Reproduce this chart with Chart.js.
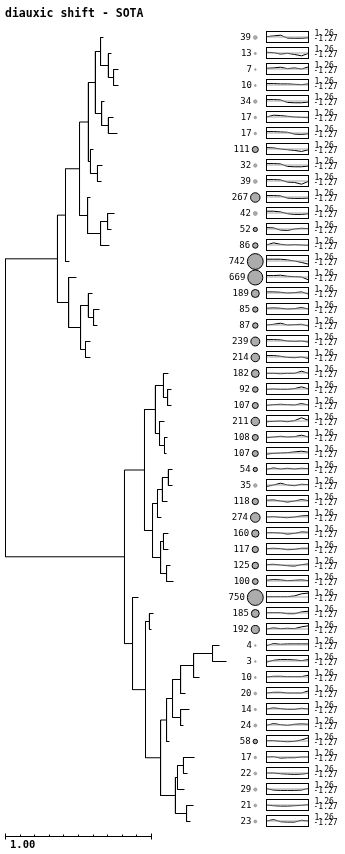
<!DOCTYPE html>
<html>
<head>
<meta charset="utf-8">
<script src="https://cdn.jsdelivr.net/npm/chart.js@4.4.1/dist/chart.umd.min.js"></script>
<style>
    html, body { margin: 0; padding: 0; background: #ffffff; }
</style>
</head>
<body>
<canvas id="sota-chart" width="345" height="854"></canvas>
<script>
const chart_title = 'diauxic shift - SOTA';

// number of genes in each leaf cluster, top to bottom
const leaf_counts = [39, 13, 7, 10, 34, 17, 17, 111, 32, 39, 267, 42, 52, 86, 742, 669, 189, 85, 87, 239,
    214, 182, 92, 107, 211, 108, 107, 54, 35, 118, 274, 160, 117, 125, 100, 750, 185, 192, 4, 3,
    10, 20, 14, 24, 58, 17, 22, 29, 21, 23];

// distance from the root where each leaf branch ends
const leaf_ends = [0.671, 0.726, 0.774, 0.774, 0.678, 0.740, 0.767, 0.603, 0.664, 0.658,
    0.582, 0.747, 0.726, 0.712, 0.438, 0.486, 0.596, 0.644, 0.630, 0.582,
    0.582, 1.116, 1.137, 1.137, 1.089, 1.110, 1.103, 1.144, 1.144, 1.110,
    1.068, 1.116, 1.116, 1.130, 1.151, 0.911, 1.014, 1.000, 1.466, 1.514,
    1.329, 1.233, 1.260, 1.219, 1.123, 1.295, 1.247, 1.226, 1.288, 1.267];

// [child a, child b, distance]; leaves are 0..49, new nodes get 50, 51, ...
const merges = [
    [2, 3, 0.740], [1, 50, 0.705], [0, 51, 0.651], [5, 6, 0.705], [4, 53, 0.658],
    [52, 54, 0.616], [8, 9, 0.630], [7, 56, 0.582], [55, 57, 0.568], [11, 12, 0.699],
    [59, 13, 0.651], [10, 60, 0.562], [58, 61, 0.507], [62, 14, 0.411], [17, 18, 0.603],
    [16, 64, 0.568], [19, 20, 0.548], [65, 66, 0.514], [15, 67, 0.432], [63, 68, 0.356],
    [22, 23, 1.110], [21, 70, 1.082], [25, 26, 1.089], [24, 72, 1.055], [71, 73, 1.027],
    [27, 28, 1.116], [75, 29, 1.075], [76, 30, 1.041], [31, 32, 1.082], [33, 34, 1.103],
    [78, 79, 1.062], [77, 80, 1.007], [74, 81, 0.952], [36, 37, 0.986], [38, 39, 1.418],
    [84, 40, 1.288], [85, 41, 1.199], [42, 43, 1.199], [86, 87, 1.144], [88, 44, 1.103],
    [45, 46, 1.219], [90, 47, 1.178], [48, 49, 1.240], [91, 92, 1.164], [89, 93, 1.062],
    [83, 94, 0.959], [35, 95, 0.870], [82, 96, 0.815], [69, 97, 0.000]
];

const profile_max = 1.26;
const profile_min = -1.27;

// mean expression profile of each cluster (7 time points)
const profiles = [
    [0.1, 0.3, 0.5, -0.3, -0.35, -0.35, -0.2],
    [0.2, 0.1, -0.3, -0.1, -0.4, -0.8, -0.1],
    [0.2, 0.3, 0.5, 0.1, 0.3, 0.0, 0.6],
    [0.4, 0.4, 0.3, 0.3, 0.2, 0.1, 0.3],
    [0.4, 0.4, 0.3, -0.4, -0.5, -0.5, -0.3],
    [0.0, 0.5, 0.4, 0.2, 0.0, -0.1, -0.2],
    [0.4, 0.4, 0.3, 0.2, -0.3, -0.4, -0.2],
    [0.4, 0.3, 0.0, -0.2, -0.4, -0.7, -0.2],
    [0.4, 0.4, 0.3, -0.4, -0.5, -0.5, -0.3],
    [0.4, 0.4, 0.3, -0.3, -0.4, -0.9, -0.1],
    [0.4, 0.4, 0.3, -0.3, -0.4, -0.4, -0.3],
    [0.5, 0.5, 0.3, -0.2, -0.4, -0.4, -0.2],
    [0.4, 0.3, -0.3, -0.4, 0.0, 0.2, 0.1],
    [0.0, 0.6, 0.2, 0.0, 0.1, 0.0, -0.1],
    [0.5, 0.5, 0.5, 0.3, 0.0, -0.4, -0.9],
    [0.4, 0.4, 0.5, 0.2, 0.1, 0.0, -0.8],
    [0.3, 0.3, 0.2, 0.0, 0.1, 0.3, -0.3],
    [0.2, 0.3, 0.2, 0.0, 0.1, 0.4, 0.0],
    [0.0, 0.2, 0.5, 0.0, 0.1, 0.2, -0.3],
    [0.4, 0.4, 0.3, 0.0, -0.1, 0.0, -0.3],
    [0.4, 0.4, 0.2, -0.1, -0.2, 0.0, -0.4],
    [-0.1, -0.1, -0.2, -0.1, -0.1, 0.5, -0.1],
    [-0.1, 0.0, -0.1, -0.1, 0.1, 0.6, 0.0],
    [-0.1, 0.1, 0.2, 0.1, 0.0, 0.4, 0.0],
    [-0.2, -0.1, 0.0, -0.2, 0.1, 0.9, 0.2],
    [-0.2, 0.0, 0.2, 0.0, 0.1, 0.5, 0.0],
    [-0.3, -0.1, 0.0, 0.1, 0.3, 0.5, 0.2],
    [-0.1, 0.3, 0.0, 0.2, 0.0, 0.2, 0.1],
    [-0.4, 0.0, 0.5, 0.0, -0.2, 0.2, 0.1],
    [0.2, 0.3, 0.0, -0.3, 0.0, 0.4, 0.1],
    [0.0, 0.1, -0.1, -0.2, 0.0, 0.3, 0.4],
    [0.1, 0.1, 0.0, -0.3, -0.1, 0.3, 0.2],
    [0.1, 0.2, 0.1, -0.2, -0.1, 0.2, 0.2],
    [0.1, 0.2, 0.0, -0.2, -0.3, 0.1, 0.3],
    [0.2, 0.4, 0.3, 0.1, 0.2, 0.3, 0.1],
    [0.1, 0.1, 0.1, 0.1, 0.3, 0.9, 1.1],
    [0.1, 0.1, 0.1, -0.2, -0.2, 0.3, 0.5],
    [0.0, 0.3, 0.1, 0.2, 0.1, 0.6, 0.9],
    [-0.2, 0.4, 0.2, 0.3, 0.3, 0.3, 0.3],
    [-0.3, 0.2, 0.4, 0.4, 0.3, 0.1, 0.4],
    [0.0, 0.2, 0.2, 0.1, 0.1, 0.1, 0.5],
    [0.0, 0.2, 0.2, 0.0, 0.0, 0.0, 0.6],
    [0.0, 0.3, 0.1, -0.1, -0.1, 0.2, 0.0],
    [-0.1, 0.4, 0.1, -0.1, 0.2, 0.3, 0.2],
    [0.1, 0.1, -0.1, -0.2, -0.1, 0.3, 0.9],
    [0.0, 0.1, -0.3, -0.2, -0.2, 0.0, 0.0],
    [0.0, 0.0, -0.2, -0.3, -0.4, -0.3, -0.1],
    [0.1, -0.3, -0.4, -0.4, -0.4, -0.3, 0.2],
    [0.0, -0.2, -0.3, -0.3, -0.2, -0.1, 0.1],
    [0.0, 0.4, -0.2, -0.3, -0.3, 0.2, 0.0]
];

const scale_bar_length = 1.0;
const scale_bar_step = 0.1;
const scale_bar_label = '1.00';

const sota_chart = document.getElementById('sota-chart');

// layout (pixels)
const tree_left = 5.5;
const tree_unit = 146;
const row_top = 37.5;
const row_step = 16;
const panel_left = 266.5;
const panel_step = 7;
const marker_pos = -1.6;
const box_top = -6 / row_step;
const box_bottom = 5 / row_step;
const box_mid = (box_top + box_bottom) / 2;
const box_half = (box_bottom - box_top) / 2 - 1 / row_step;

// dendrogram as elbow paths
const node_x = leaf_ends.slice();
const node_y = leaf_counts.map((count, i) => i);
merges.forEach(([a, b, h]) => {
    node_x.push(h);
    node_y.push((node_y[a] + node_y[b]) / 2);
});

const tree_points = [];
merges.forEach(([a, b, h]) => {
    tree_points.push(
        { x: node_x[a], y: node_y[a] },
        { x: h, y: node_y[a] },
        { x: h, y: node_y[b] },
        { x: node_x[b], y: node_y[b] },
        { x: null, y: null }
    );
});

const profile_to_row = (row, v) => {
    const half_range = v >= 0 ? profile_max : -profile_min;
    return row + box_mid - (v / half_range) * box_half;
};

const zero_points = [];
const profile_points = [];
profiles.forEach((values, row) => {
    zero_points.push({ x: 0, y: profile_to_row(row, 0) }, { x: values.length - 1, y: profile_to_row(row, 0) }, { x: null, y: null });
    values.forEach((v, t) => profile_points.push({ x: t, y: profile_to_row(row, v) }));
    profile_points.push({ x: null, y: null });
});

const marker_radius = (count) => Math.max(0.8, 0.29 * Math.sqrt(count));
const marker_points = leaf_counts.map((count, row) => ({ x: marker_pos, y: row }));

const overlay_plugin = {
    id: 'overlay',
    afterDatasetsDraw(chart) {
        const { ctx } = chart;
        const x = chart.scales.x;
        const x2 = chart.scales.x2;
        const y = chart.scales.y;

        ctx.save();

        // title
        ctx.fillStyle = '#000000';
        ctx.font = 'bold 11.5px "DejaVu Sans Mono"';
        ctx.textAlign = 'left';
        ctx.textBaseline = 'alphabetic';
        ctx.fillText(chart_title, 5, 17);

        // profile boxes
        ctx.strokeStyle = '#000000';
        ctx.lineWidth = 1;
        const box_left = x2.getPixelForValue(0);
        const box_right = x2.getPixelForValue(profiles[0].length - 1);
        leaf_counts.forEach((count, row) => {
            const top = y.getPixelForValue(row + box_top);
            const bottom = y.getPixelForValue(row + box_bottom);
            ctx.strokeRect(box_left, top, box_right - box_left, bottom - top);
        });

        // counts and ranges
        leaf_counts.forEach((count, row) => {
            const py = y.getPixelForValue(row);
            const mx = x2.getPixelForValue(marker_pos);
            ctx.font = '9px "DejaVu Sans Mono"';
            ctx.textAlign = 'right';
            ctx.textBaseline = 'middle';
            ctx.fillText(String(count), mx - marker_radius(count) - 2.5, py);

            ctx.font = '8px "DejaVu Sans Mono"';
            ctx.textAlign = 'left';
            ctx.textBaseline = 'alphabetic';
            ctx.fillText(profile_max.toFixed(2), box_right + 6, py - 2);
            ctx.fillText(profile_min.toFixed(2), box_right + 5, py + 3.5);
        });

        // distance scale bar
        const bar_y = 836.5;
        const bar_start = x.getPixelForValue(0);
        const bar_end = x.getPixelForValue(scale_bar_length);
        ctx.beginPath();
        ctx.moveTo(bar_start, bar_y);
        ctx.lineTo(bar_end, bar_y);
        const tick_count = Math.round(scale_bar_length / scale_bar_step);
        for (let i = 0; i <= tick_count; i++) {
            const tx = Math.round(x.getPixelForValue(i * scale_bar_step) - 0.5) + 0.5;
            const is_end = i === 0 || i === tick_count;
            ctx.moveTo(tx, is_end ? bar_y - 3 : bar_y - 2);
            ctx.lineTo(tx, is_end ? bar_y + 3 : bar_y);
        }
        ctx.stroke();

        ctx.font = 'bold 10.5px "DejaVu Sans Mono"';
        ctx.textAlign = 'left';
        ctx.textBaseline = 'alphabetic';
        ctx.fillText(scale_bar_label, 10, 848);

        ctx.restore();
    }
};

const sota_chart_instance = new Chart(
    sota_chart,
    {
        type: 'scatter',
        data: {
            datasets: [
                {
                    label: 'tree',
                    data: tree_points,
                    showLine: true,
                    spanGaps: false,
                    clip: false,
                    borderColor: '#000000',
                    borderWidth: 1,
                    pointRadius: 0,
                    xAxisID: 'x',
                    yAxisID: 'y'
                },
                {
                    label: 'zero',
                    data: zero_points,
                    showLine: true,
                    spanGaps: false,
                    clip: false,
                    borderColor: '#a6a6a6',
                    borderWidth: 1,
                    pointRadius: 0,
                    xAxisID: 'x2',
                    yAxisID: 'y'
                },
                {
                    label: 'profiles',
                    data: profile_points,
                    showLine: true,
                    spanGaps: false,
                    clip: false,
                    borderColor: '#000000',
                    borderWidth: 1,
                    pointRadius: 0,
                    xAxisID: 'x2',
                    yAxisID: 'y'
                },
                {
                    label: 'cluster size',
                    data: marker_points,
                    clip: false,
                    pointRadius: leaf_counts.map(marker_radius),
                    pointBackgroundColor: '#acacac',
                    pointBorderColor: leaf_counts.map((count) => (count < 50 ? '#9a9a9a' : '#000000')),
                    pointBorderWidth: 1,
                    xAxisID: 'x2',
                    yAxisID: 'y'
                }
            ]
        },
        options: {
            responsive: false,
            animation: false,
            events: [],
            layout: {
                padding: 0,
                autoPadding: false
            },
            plugins: {
                legend: {
                    display: false
                },
                tooltip: {
                    enabled: false
                }
            },
            scales: {
                x: {
                    type: 'linear',
                    display: false,
                    min: -tree_left / tree_unit,
                    max: (345 - tree_left) / tree_unit
                },
                x2: {
                    type: 'linear',
                    display: false,
                    min: -panel_left / panel_step,
                    max: (345 - panel_left) / panel_step
                },
                y: {
                    type: 'linear',
                    display: false,
                    reverse: true,
                    min: -row_top / row_step,
                    max: (854 - row_top) / row_step
                }
            }
        },
        plugins: [overlay_plugin]
    }
);
</script>
</body>
</html>
